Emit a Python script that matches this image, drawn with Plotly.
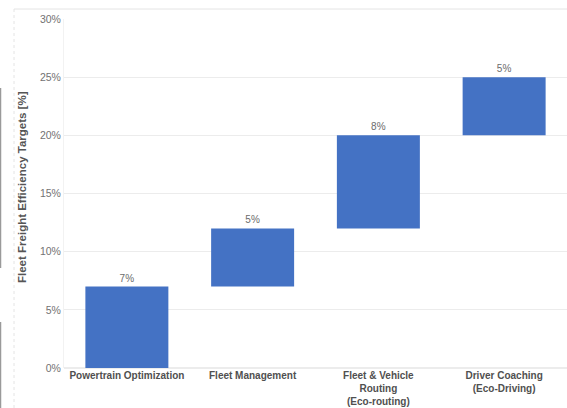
import plotly.graph_objects as go

# Waterfall of efficiency contributions (percentage points)
categories = [
    "Powertrain Optimization",
    "Fleet Management",
    "Fleet & Vehicle<br>Routing<br>(Eco-routing)",
    "Driver Coaching<br>(Eco-Driving)",
]
contributions = [7, 5, 8, 5]
y_ticks = [0, 5, 10, 15, 20, 25, 30]

W, H = 567, 408
ML, MR, MT, MB = 64, 0, 19, 40
plot_w = W - ML - MR
plot_h = H - MT - MB


def px_x(px):
    return (px - ML) / plot_w


def px_y(py):
    return (H - MB - py) / plot_h


bar_color = "#4472C4"

fig = go.Figure(
    go.Waterfall(
        x=categories,
        y=contributions,
        measure=["relative"] * len(contributions),
        text=[f"{v}%" for v in contributions],
        textposition="outside",
        textfont=dict(size=10, color="#6b6b6b", family="Arial"),
        increasing=dict(marker=dict(color=bar_color, line=dict(width=0))),
        decreasing=dict(marker=dict(color=bar_color, line=dict(width=0))),
        totals=dict(marker=dict(color=bar_color, line=dict(width=0))),
        connector=dict(visible=False),
        width=0.66,
        cliponaxis=False,
        hoverinfo="skip",
    )
)

fig.update_layout(
    width=W,
    height=H,
    margin=dict(l=ML, r=MR, t=MT, b=MB),
    paper_bgcolor="white",
    plot_bgcolor="white",
    showlegend=False,
    font=dict(family="Arial", size=10, color="#555555"),
    xaxis=dict(
        showgrid=False,
        showline=False,
        ticks="",
        tickfont=dict(size=10, color="#505050", family="Arial Black, Arial"),
        tickangle=0,
        tickprefix="<b>",
        ticksuffix="</b>",
    ),
    yaxis=dict(
        range=[0, 30],
        tickvals=y_ticks,
        ticktext=[f"{v}%" for v in y_ticks],
        showgrid=True,
        gridcolor="#ececec",
        gridwidth=1,
        zeroline=True,
        zerolinecolor="#ececec",
        showline=True,
        linecolor="#f2f2f2",
        tickfont=dict(size=10.5, color="#727272", family="Arial"),
        ticks="",
    ),
    annotations=[
        dict(
            text="<b>Fleet Freight Efficiency Targets [%]</b>",
            x=px_x(22),
            y=px_y(187),
            xref="paper",
            yref="paper",
            textangle=-90,
            showarrow=False,
            font=dict(size=11.5, color="#555555", family="Arial"),
            xanchor="center",
            yanchor="middle",
        )
    ],
    shapes=[
        # outer frame lines
        dict(type="line", xref="paper", yref="paper",
             x0=px_x(14), x1=px_x(567), y0=px_y(9), y1=px_y(9),
             line=dict(color="#e4e4e4", width=1)),
        dict(type="line", xref="paper", yref="paper",
             x0=px_x(14), x1=px_x(14), y0=px_y(9), y1=px_y(408),
             line=dict(color="#e4e4e4", width=1, dash="dot")),
        # left edge strips
        dict(type="line", xref="paper", yref="paper",
             x0=px_x(0.5), x1=px_x(0.5), y0=px_y(88), y1=px_y(268),
             line=dict(color="#9a9a9a", width=1.5)),
        dict(type="line", xref="paper", yref="paper",
             x0=px_x(0.5), x1=px_x(0.5), y0=px_y(322), y1=px_y(408),
             line=dict(color="#9a9a9a", width=1.5)),
    ],
)

fig.write_html("out.html")
